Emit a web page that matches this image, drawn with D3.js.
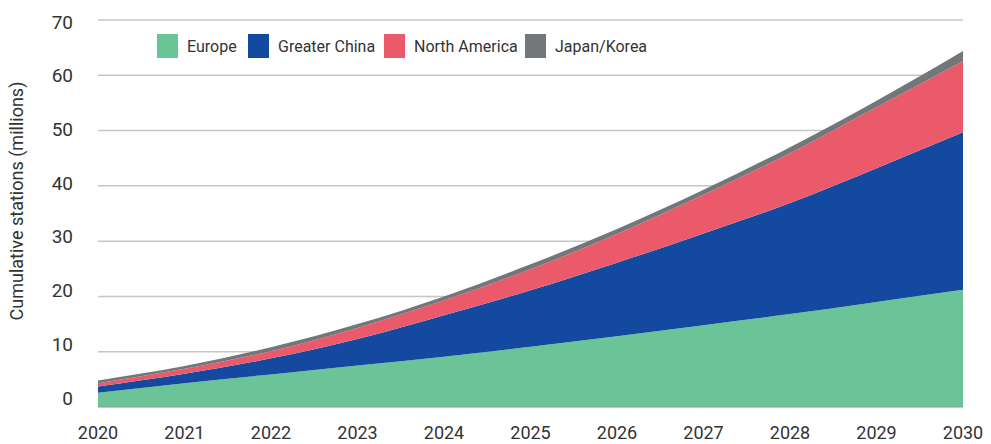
<!DOCTYPE html>
<html>
<head>
<meta charset="utf-8">
<script src="https://cdn.jsdelivr.net/npm/d3@7"></script>
<style>
  html, body { margin: 0; padding: 0; background: #fff; }
  svg { display: block; }
  text { font-family: Roboto, "DejaVu Sans", sans-serif; fill: #333; }
</style>
</head>
<body>
<svg id="chart" width="991" height="444"></svg>
<script>
const years = [2020, 2021, 2022, 2023, 2024, 2025, 2026, 2027, 2028, 2029, 2030];
const europe       = [2.6, 4.3, 5.9, 7.5, 9.1, 10.9, 12.8, 14.8, 16.8, 19.0, 21.2];
const greaterChina = [1.1, 1.7, 2.9, 4.8, 7.5, 10.2, 13.3, 16.6, 20.1, 24.2, 28.5];
const northAmerica = [0.6, 0.9, 1.3, 2.0, 2.7, 3.8, 5.2, 7.0, 9.0, 11.0, 12.9];
const japanKorea   = [0.5, 0.5, 0.7, 0.7, 0.7, 0.9, 0.9, 0.9, 1.1, 1.2, 1.8];
const seriesNames  = ["Europe", "Greater China", "North America", "Japan/Korea"];
const seriesColors = ["#6BC497", "#134A9F", "#EB5A6B", "#73777A"];
const yTicks = [0, 10, 20, 30, 40, 50, 60, 70];
const yTitle = "Cumulative stations (millions)";

const svg = d3.select("#chart");
const plotLeft = 98, plotRight = 963, plotTop = 20, plotBottom = 407;

const x = d3.scaleLinear().domain([2020, 2030]).range([plotLeft, plotRight]);
const y = d3.scaleLinear().domain([0, 70]).range([plotBottom, plotTop]);
const yLabel = d3.scaleLinear().domain([0, 70]).range([398, 22]);

const seriesArrays = [europe, greaterChina, northAmerica, japanKorea];
const table = years.map((yr, i) => {
  const row = { year: yr };
  seriesNames.forEach((n, k) => row[n] = seriesArrays[k][i]);
  return row;
});
const stacked = d3.stack().keys(seriesNames)(table);

// gridlines
svg.append("g").selectAll("line").data(yTicks.filter(d => d > 0)).join("line")
  .attr("x1", plotLeft).attr("x2", plotRight)
  .attr("y1", d => y(d)).attr("y2", d => y(d))
  .attr("stroke", "#c6c6c6").attr("stroke-width", 1.5);

// areas
const area = d3.area()
  .x(d => x(d.data.year))
  .y0(d => y(d[0]))
  .y1(d => y(d[1]))
  .curve(d3.curveMonotoneX);

svg.append("g").selectAll("path").data(stacked).join("path")
  .attr("d", area)
  .attr("fill", (d, i) => seriesColors[i]);

// baseline
svg.append("line")
  .attr("x1", plotLeft).attr("x2", plotRight)
  .attr("y1", y(0)).attr("y2", y(0))
  .attr("stroke", "#889a98").attr("stroke-width", 1.2);

// y labels
svg.append("g").selectAll("text").data(yTicks).join("text")
  .attr("x", 73).attr("y", d => yLabel(d))
  .attr("text-anchor", "end").attr("dominant-baseline", "central")
  .attr("font-size", 19).text(d => d);

// x labels
svg.append("g").selectAll("text").data(years).join("text")
  .attr("x", d => x(d)).attr("y", 439)
  .attr("text-anchor", "middle")
  .attr("font-size", 18).text(d => d);

// y title
svg.append("text")
  .attr("transform", "translate(23,201) rotate(-90)")
  .attr("text-anchor", "middle")
  .attr("font-size", 18).text(yTitle);

// legend
const legendX = [157, 248, 384, 525];
const lg = svg.append("g").selectAll("g").data(seriesNames).join("g")
  .attr("transform", (d, i) => `translate(${legendX[i]},34)`);
lg.append("rect").attr("width", 21).attr("height", 24)
  .attr("fill", (d, i) => seriesColors[i]);
lg.append("text").attr("x", 30).attr("y", 12.5)
  .attr("dominant-baseline", "central")
  .attr("font-size", 16).text(d => d);
</script>
</body>
</html>
